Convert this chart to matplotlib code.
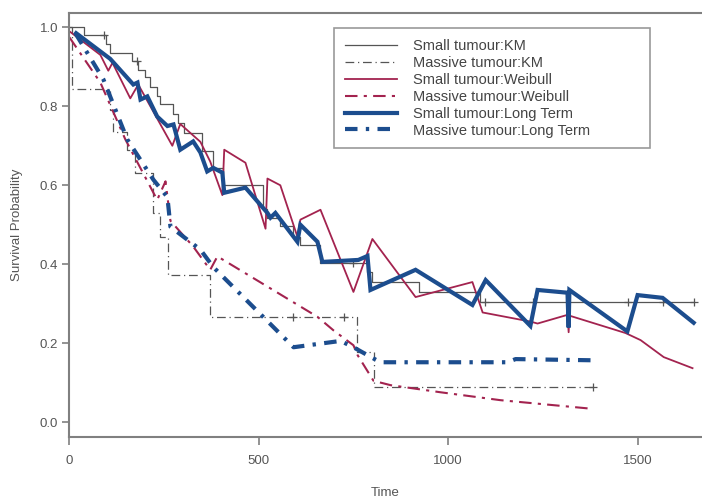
import numpy as np
import matplotlib
matplotlib.use("Agg")
import matplotlib.pyplot as plt

plt.rcParams['font.family'] = ['Liberation Sans', 'DejaVu Sans']

# Kaplan-Meier step curves
km_small_t = [0, 40, 98, 108, 166, 182, 201, 214, 232, 240, 275, 288, 304, 351, 378, 407,
              512, 523, 557, 591, 610, 663, 787, 800, 922, 1085, 1648]
km_small_s = [1.0, 0.98, 0.957, 0.936, 0.915, 0.893, 0.873, 0.848, 0.825, 0.805, 0.78, 0.757,
              0.733, 0.686, 0.644, 0.60, 0.54, 0.517, 0.496, 0.47, 0.449, 0.404, 0.38, 0.356,
              0.331, 0.305, 0.305]
km_small_cens = [92, 180, 750, 1098, 1223, 1476, 1566, 1648]

km_mass_t = [0, 8, 108, 116, 153, 174, 222, 240, 261, 372, 760, 803, 1381]
km_mass_s = [1.0, 0.843, 0.79, 0.736, 0.69, 0.632, 0.53, 0.47, 0.373, 0.267, 0.178, 0.09, 0.09]
km_mass_cens = [591, 724, 1381]

# Weibull
wb_small_t = [0, 82, 103, 114, 161, 182, 272, 293, 346, 372, 404, 409, 465, 518, 523, 557,
              602, 610, 663, 750, 800, 914, 1064, 1091, 1217, 1236, 1315, 1318, 1320, 1468,
              1508, 1569, 1645]
wb_small_s = [0.99, 0.93, 0.89, 0.91, 0.82, 0.855, 0.70, 0.755, 0.71, 0.66, 0.575, 0.69, 0.657,
              0.49, 0.617, 0.60, 0.47, 0.513, 0.538, 0.33, 0.464, 0.317, 0.355, 0.278, 0.255,
              0.25, 0.272, 0.228, 0.27, 0.226, 0.208, 0.165, 0.137]

wb_mass_t = [0, 82, 148, 232, 254, 267, 327, 372, 391, 655, 697, 750, 761, 803, 848, 980,
             1138, 1371]
wb_mass_s = [0.975, 0.86, 0.716, 0.563, 0.61, 0.51, 0.445, 0.386, 0.42, 0.267, 0.233, 0.195,
             0.17, 0.105, 0.094, 0.076, 0.056, 0.035]

# Long term
lt_small_t = [18, 108, 169, 180, 188, 206, 232, 259, 275, 293, 327, 346, 364, 380, 404, 409,
              465, 523, 531, 544, 602, 610, 655, 668, 763, 787, 795, 914, 1064, 1099, 1217,
              1236, 1315, 1318, 1320, 1473, 1500, 1566, 1648]
lt_small_s = [0.985, 0.92, 0.855, 0.86, 0.817, 0.825, 0.774, 0.75, 0.754, 0.69, 0.711, 0.683,
              0.635, 0.644, 0.632, 0.581, 0.594, 0.53, 0.518, 0.53, 0.457, 0.5, 0.457, 0.406,
              0.411, 0.421, 0.335, 0.386, 0.297, 0.36, 0.244, 0.335, 0.328, 0.24, 0.335, 0.23,
              0.322, 0.315, 0.252]

lt_mass_t = [16, 90, 153, 222, 259, 267, 346, 380, 592, 716, 750, 787, 821, 1157, 1178, 1381]
lt_mass_s = [0.985, 0.868, 0.716, 0.614, 0.57, 0.495, 0.437, 0.393, 0.19, 0.206, 0.19, 0.17,
             0.152, 0.152, 0.16, 0.157]

labels = ['Small tumour:KM', 'Massive tumour:KM', 'Small tumour:Weibull',
          'Massive tumour:Weibull', 'Small tumour:Long Term', 'Massive tumour:Long Term']

grey = '#555555'
red = '#a3234f'
blue = '#1c4d8e'
axcol = '#808080'


def step_at(ts, ss, t):
    i = np.searchsorted(ts, t, side='right') - 1
    return ss[i]


fig = plt.figure(figsize=(7.02, 5.01), dpi=100)
ax = fig.add_axes([0.0987, 0.1287, 0.9013, 0.8453])

ax.step(km_small_t, km_small_s, where='post', color=grey, lw=0.9, label=labels[0])
ax.step(km_mass_t, km_mass_s, where='post', color=grey, lw=0.9,
        dashes=(7, 3, 1, 3), label=labels[1])
ax.plot(km_small_cens, [step_at(km_small_t, km_small_s, t) for t in km_small_cens],
        '+', color=grey, ms=6, mew=0.9)
ax.plot(km_mass_cens, [step_at(km_mass_t, km_mass_s, t) for t in km_mass_cens],
        '+', color=grey, ms=6, mew=0.9)

ax.plot(wb_small_t, wb_small_s, color=red, lw=1.3, label=labels[2])
ax.plot(wb_mass_t, wb_mass_s, color=red, lw=1.5, dashes=(6, 3, 1.5, 3), label=labels[3])

ax.plot(lt_small_t, lt_small_s, color=blue, lw=3.0, solid_joinstyle='miter', label=labels[4])
ax.plot(lt_mass_t, lt_mass_s, color=blue, lw=3.0, dashes=(3, 2, 0.8, 2), label=labels[5])

ax.set_xlim(0, 1670)
ax.set_ylim(-0.036, 1.036)
ax.set_xticks([0, 500, 1000, 1500])
ax.set_yticks([0.0, 0.2, 0.4, 0.6, 0.8, 1.0])
ax.set_yticklabels(['0.0', '0.2', '0.4', '0.6', '0.8', '1.0'])

ax.spines['right'].set_visible(False)
for s in ['left', 'bottom', 'top']:
    ax.spines[s].set_color(axcol)
    ax.spines[s].set_linewidth(1.5)
ax.tick_params(axis='y', direction='out', length=5, width=1.2, color=axcol,
               labelcolor='#555555', labelsize=9.5, pad=3)
ax.tick_params(axis='x', direction='out', length=6, width=1.2, color=axcol,
               labelcolor='#555555', labelsize=9.5, pad=7)

ax.set_xlabel('Time', color='#555555', fontsize=9.5, labelpad=15)
ax.set_ylabel('Survival Probability', color='#555555', fontsize=9.5, labelpad=12)

leg = ax.legend(loc='upper left', bbox_to_anchor=(0.418, 0.9646, 0.5, 0.0),
                mode='expand', fancybox=False, edgecolor=axcol, fontsize=10.5,
                handlelength=3.6, handletextpad=1.1, labelspacing=0.2,
                borderpad=0.75, borderaxespad=0)
leg.get_frame().set_linewidth(1.2)
for txt in leg.get_texts():
    txt.set_color('#444444')

fig.savefig('out.png', dpi=100)
